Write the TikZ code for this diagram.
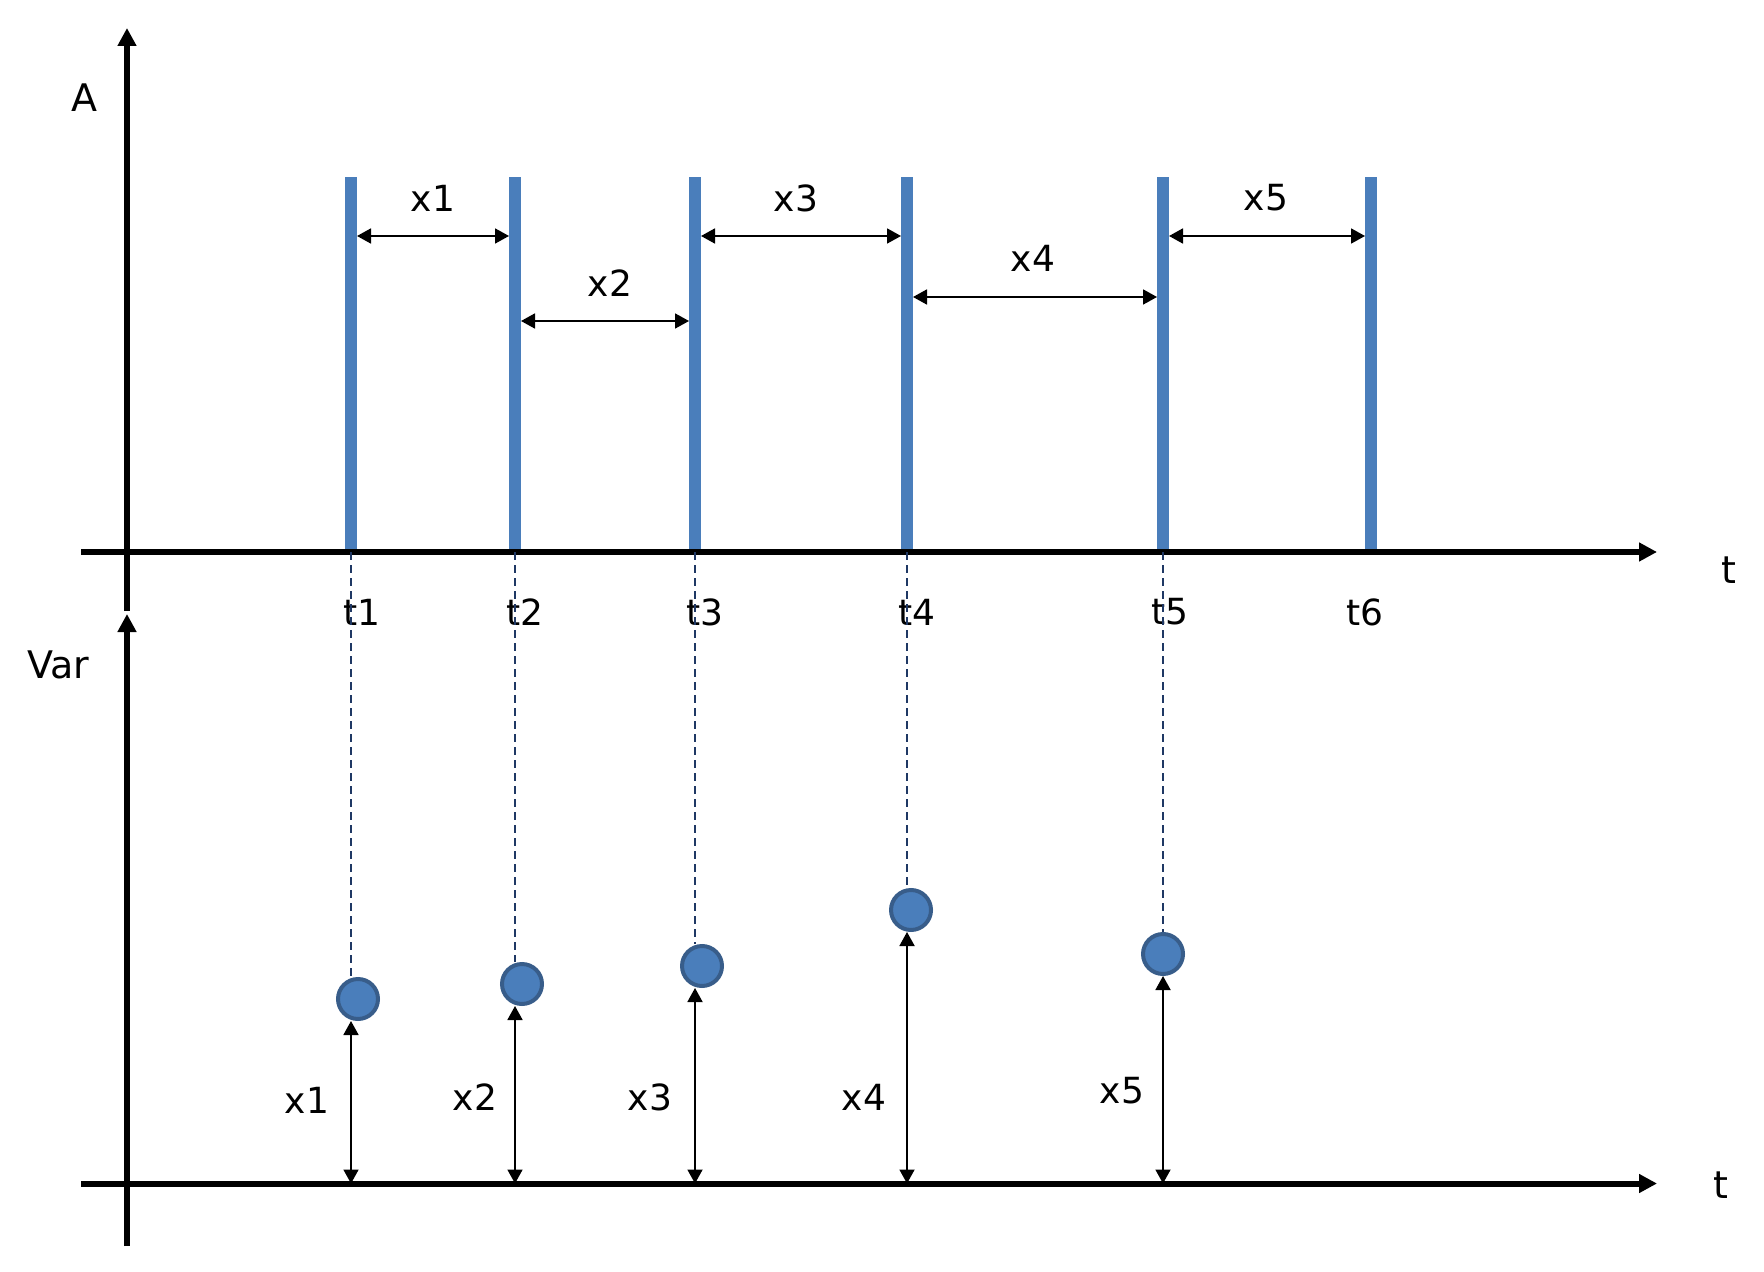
\documentclass[tikz,border=0pt]{standalone}
\usepackage{fontspec}
\setmainfont{DejaVu Sans}
\usetikzlibrary{arrows.meta}
\definecolor{barblue}{HTML}{4A7EBB}
\definecolor{dotborder}{HTML}{385D8A}
\definecolor{guidenavy}{HTML}{1F3864}
\begin{document}
\begin{tikzpicture}[x=0.5pt,y=-0.5pt,
  axis/.style={line width=3pt,-{Triangle[length=9pt,width=9pt]}},
  bar/.style={line width=6pt, draw=barblue},
  dim/.style={line width=0.9pt,{Triangle[length=7pt,width=7.5pt]}-{Triangle[length=7pt,width=7.5pt]}},
  guide/.style={draw=guidenavy, line width=0.6pt, dash pattern=on 4pt off 2.5pt},
  dot/.style={circle, fill=barblue, draw=dotborder, line width=2pt, minimum size=20pt, inner sep=0pt},
  lbl/.style={font=\fontsize{18}{22}\selectfont, inner sep=0pt},
  axlbl/.style={font=\fontsize{19}{23}\selectfont, inner sep=0pt},
]
\useasboundingbox (0,0) rectangle (1764,1272);

% axes
\coordinate (uyb) at (127,611);
\coordinate (uyt) at (127,28);
\coordinate (uxl) at (81,552);
\coordinate (uxr) at (1657,552);
\coordinate (lyb) at (127,1246);
\coordinate (lyt) at (127,614);
\coordinate (lxl) at (81,1183.5);
\coordinate (lxr) at (1657,1183.5);

% bars
\foreach \i/\x in {1/351,2/515,3/695,4/907,5/1163,6/1371}{
  \coordinate (b\i top) at (\x,177);
  \coordinate (b\i bot) at (\x,552);
  \coordinate (b\i low) at (\x,1183.5);
  \draw[bar] (b\i bot) -- (b\i top);
}
\draw[axis] (uyb) -- (uyt);
\draw[axis] (uxl) -- (uxr);
\draw[axis] (lyb) -- (lyt);
\draw[axis] (lxl) -- (lxr);

\node[axlbl] (lA) at (84,98) {A};
\node[axlbl] (lVar) at (58,665) {Var};
\node[axlbl] (lt1) at (1729,570) {t};
\node[axlbl] (lt2) at (1721,1185) {t};

% interval arrows
\coordinate (a1l) at (357,236); \coordinate (a1r) at (509,236);
\coordinate (a2l) at (521,321); \coordinate (a2r) at (689,321);
\coordinate (a3l) at (701,236); \coordinate (a3r) at (901,236);
\coordinate (a4l) at (913,297); \coordinate (a4r) at (1157,297);
\coordinate (a5l) at (1169,236); \coordinate (a5r) at (1365,236);
\foreach \i in {1,...,5}{ \draw[dim] (a\i l) -- (a\i r); }
\node[lbl] (ix1) at (433,198) {x1};
\node[lbl] (ix2) at (610,283) {x2};
\node[lbl] (ix3) at (796,198) {x3};
\node[lbl] (ix4) at (1033,258) {x4};
\node[lbl] (ix5) at (1266,198) {x5};

% tick labels
\node[lbl] (t1) at (362,612) {t1};
\node[lbl] (t2) at (525,612) {t2};
\node[lbl] (t3) at (705,612) {t3};
\node[lbl] (t4) at (917,612) {t4};
\node[lbl] (t5) at (1170,612) {t5};
\node[lbl] (t6) at (1365,612) {t6};

% dots
\node[dot] (d1) at (358,999) {};
\node[dot] (d2) at (522,984) {};
\node[dot] (d3) at (702,966) {};
\node[dot] (d4) at (911,910) {};
\node[dot] (d5) at (1163,954) {};

% guides and value arrows
\foreach \i/\x in {1/351,2/515,3/695,4/907,5/1163}{
  \draw[guide] (b\i bot) -- (\x,0 |- d\i.north);
  \draw[dim] (\x,0 |- d\i.south) -- (b\i low);
}
\node[lbl] (v1) at (307,1100) {x1};
\node[lbl] (v2) at (475,1097) {x2};
\node[lbl] (v3) at (650,1097) {x3};
\node[lbl] (v4) at (864,1097) {x4};
\node[lbl] (v5) at (1122,1091) {x5};
\end{tikzpicture}
\end{document}
